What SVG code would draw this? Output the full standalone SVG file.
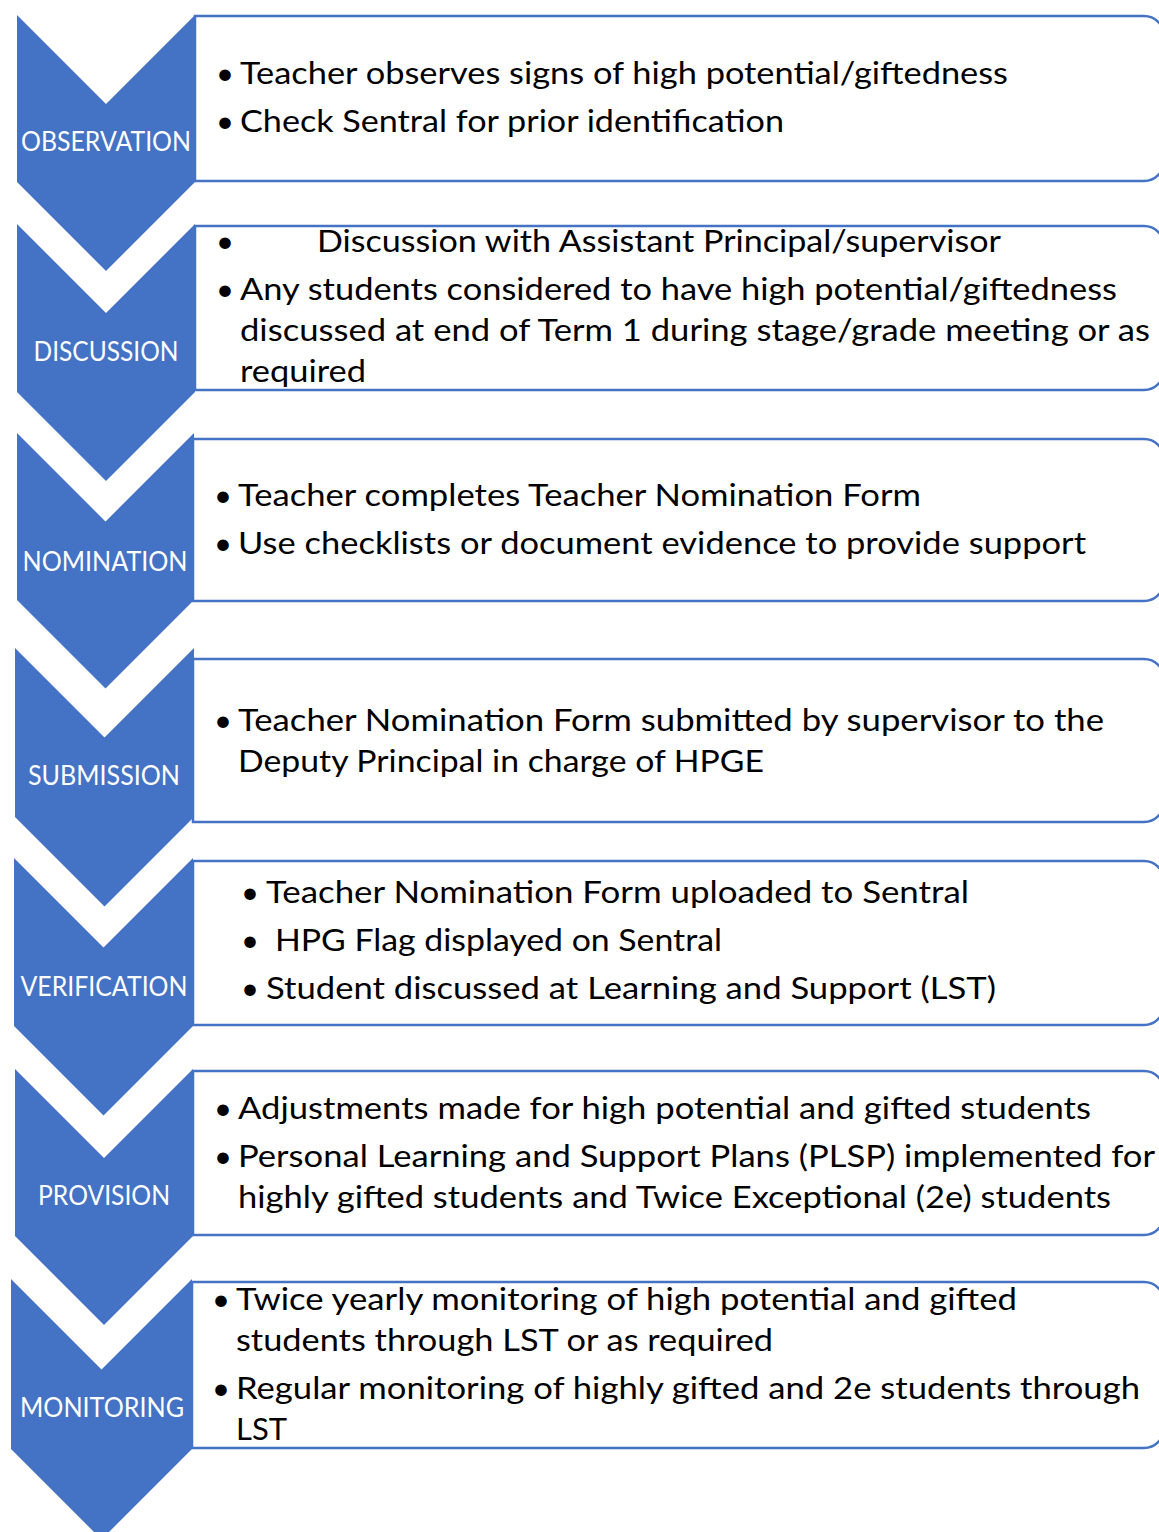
<svg xmlns="http://www.w3.org/2000/svg" width="1159" height="1532" viewBox="0 0 1159 1532">
  <style>
    .box { fill: #ffffff; stroke: #4472C4; stroke-width: 2.5; }
    .chev { fill: #4472C4; }
    .lbl { font-family: Lato, "Open Sans", "Liberation Sans", sans-serif; font-size: 26px; fill: #ffffff; text-anchor: middle; }
    .txt { font-family: Lato, "Open Sans", "Liberation Sans", sans-serif; font-size: 31px; fill: #000000; }
  </style>
  <rect width="1159" height="1532" fill="#ffffff"/>

  <!-- step 1 -->
  <g id="observation">
    <path class="box" d="M195,16 H1144 A20,20 0 0 1 1164,36 V161 A20,20 0 0 1 1144,181 H195 Z"/>
    <path class="chev" d="M17,15 L106,104 L195,15 L195,182 L106,271 L17,182 Z"/>
    <text class="lbl" x="106" y="151" textLength="170" lengthAdjust="spacingAndGlyphs">OBSERVATION</text>
    <text class="txt" x="216" y="84">•</text>
    <text class="txt" x="240" y="84" textLength="768" lengthAdjust="spacingAndGlyphs">Teacher observes signs of high potential/giftedness</text>
    <text class="txt" x="216" y="132">•</text>
    <text class="txt" x="240" y="132" textLength="544" lengthAdjust="spacingAndGlyphs">Check Sentral for prior identification</text>
  </g>

  <!-- step 2 -->
  <g id="discussion">
    <path class="box" d="M195,226 H1144 A20,20 0 0 1 1164,246 V370 A20,20 0 0 1 1144,390 H195 Z"/>
    <path class="chev" d="M17,224 L106,313 L195,224 L195,392 L106,481 L17,392 Z"/>
    <text class="lbl" x="106" y="361" textLength="145" lengthAdjust="spacingAndGlyphs">DISCUSSION</text>
    <text class="txt" x="216" y="252">•</text>
    <text class="txt" x="317" y="252" textLength="684" lengthAdjust="spacingAndGlyphs">Discussion with Assistant Principal/supervisor</text>
    <text class="txt" x="216" y="300">•</text>
    <text class="txt" x="240" y="300" textLength="877" lengthAdjust="spacingAndGlyphs">Any students considered to have high potential/giftedness</text>
    <text class="txt" x="240" y="341" textLength="910" lengthAdjust="spacingAndGlyphs">discussed at end of Term 1 during stage/grade meeting or as</text>
    <text class="txt" x="240" y="382" textLength="126" lengthAdjust="spacingAndGlyphs">required</text>
  </g>

  <!-- step 3 -->
  <g id="nomination">
    <path class="box" d="M193,439 H1144 A20,20 0 0 1 1164,459 V581 A20,20 0 0 1 1144,601 H193 Z"/>
    <path class="chev" d="M17,433 L105.5,521.5 L194,433 L194,600 L105.5,688.5 L17,600 Z"/>
    <text class="lbl" x="105" y="571" textLength="165" lengthAdjust="spacingAndGlyphs">NOMINATION</text>
    <text class="txt" x="214" y="506">•</text>
    <text class="txt" x="238" y="506" textLength="683" lengthAdjust="spacingAndGlyphs">Teacher completes Teacher Nomination Form</text>
    <text class="txt" x="214" y="554">•</text>
    <text class="txt" x="238" y="554" textLength="848" lengthAdjust="spacingAndGlyphs">Use checklists or document evidence to provide support</text>
  </g>

  <!-- step 4 -->
  <g id="submission">
    <path class="box" d="M193,659 H1144 A20,20 0 0 1 1164,679 V802 A20,20 0 0 1 1144,822 H193 Z"/>
    <path class="chev" d="M15,648 L104.5,737.5 L194,648 L194,817 L104.5,906.5 L15,817 Z"/>
    <text class="lbl" x="104" y="785" textLength="152" lengthAdjust="spacingAndGlyphs">SUBMISSION</text>
    <text class="txt" x="214" y="731">•</text>
    <text class="txt" x="238" y="731" textLength="866" lengthAdjust="spacingAndGlyphs">Teacher Nomination Form submitted by supervisor to the</text>
    <text class="txt" x="238" y="772" textLength="526" lengthAdjust="spacingAndGlyphs">Deputy Principal in charge of HPGE</text>
  </g>

  <!-- step 5 -->
  <g id="verification">
    <path class="box" d="M193,861 H1144 A20,20 0 0 1 1164,881 V1005 A20,20 0 0 1 1144,1025 H193 Z"/>
    <path class="chev" d="M14,858 L103.5,947.5 L193,858 L193,1026 L103.5,1115.5 L14,1026 Z"/>
    <text class="lbl" x="104" y="996" textLength="167" lengthAdjust="spacingAndGlyphs">VERIFICATION</text>
    <text class="txt" x="241" y="903">•</text>
    <text class="txt" x="266" y="903" textLength="703" lengthAdjust="spacingAndGlyphs">Teacher Nomination Form uploaded to Sentral</text>
    <text class="txt" x="241" y="951">•</text>
    <text class="txt" x="275" y="951" textLength="447" lengthAdjust="spacingAndGlyphs">HPG Flag displayed on Sentral</text>
    <text class="txt" x="241" y="999">•</text>
    <text class="txt" x="266" y="999" textLength="730" lengthAdjust="spacingAndGlyphs">Student discussed at Learning and Support (LST)</text>
  </g>

  <!-- step 6 -->
  <g id="provision">
    <path class="box" d="M193,1071 H1144 A20,20 0 0 1 1164,1091 V1215 A20,20 0 0 1 1144,1235 H193 Z"/>
    <path class="chev" d="M15,1069 L104,1158 L193,1069 L193,1236 L104,1325 L15,1236 Z"/>
    <text class="lbl" x="104" y="1205" textLength="132" lengthAdjust="spacingAndGlyphs">PROVISION</text>
    <text class="txt" x="214" y="1119">•</text>
    <text class="txt" x="238" y="1119" textLength="853" lengthAdjust="spacingAndGlyphs">Adjustments made for high potential and gifted students</text>
    <text class="txt" x="214" y="1167">•</text>
    <text class="txt" x="238" y="1167" textLength="917" lengthAdjust="spacingAndGlyphs">Personal Learning and Support Plans (PLSP) implemented for</text>
    <text class="txt" x="238" y="1208" textLength="873" lengthAdjust="spacingAndGlyphs">highly gifted students and Twice Exceptional (2e) students</text>
  </g>

  <!-- step 7 -->
  <g id="monitoring">
    <path class="box" d="M192,1282 H1144 A20,20 0 0 1 1164,1302 V1428 A20,20 0 0 1 1144,1448 H192 Z"/>
    <path class="chev" d="M11,1279 L101.5,1369.5 L192,1279 L192,1449 L101.5,1539.5 L11,1449 Z"/>
    <text class="lbl" x="102" y="1417" textLength="164" lengthAdjust="spacingAndGlyphs">MONITORING</text>
    <text class="txt" x="212" y="1310">•</text>
    <text class="txt" x="236" y="1310" textLength="781" lengthAdjust="spacingAndGlyphs">Twice yearly monitoring of high potential and gifted</text>
    <text class="txt" x="236" y="1351" textLength="537" lengthAdjust="spacingAndGlyphs">students through LST or as required</text>
    <text class="txt" x="212" y="1399">•</text>
    <text class="txt" x="236" y="1399" textLength="904" lengthAdjust="spacingAndGlyphs">Regular monitoring of highly gifted and 2e students through</text>
    <text class="txt" x="236" y="1440" textLength="51" lengthAdjust="spacingAndGlyphs">LST</text>
  </g>

  <!-- no connectors: the chevrons themselves carry the flow -->
  <g id="connectors"/>
</svg>
